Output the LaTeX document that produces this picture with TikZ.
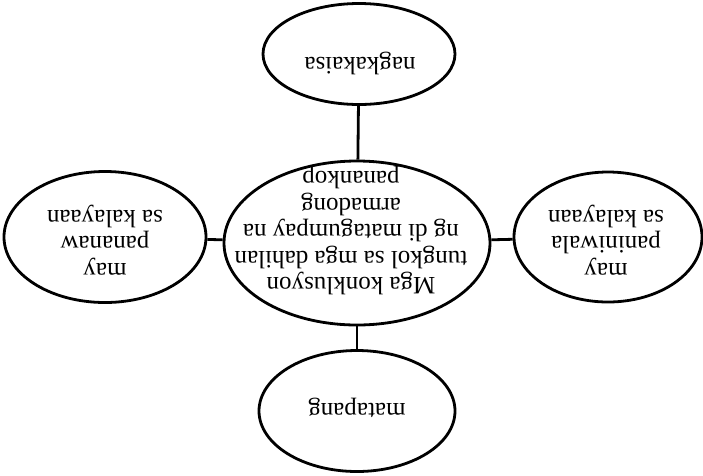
\documentclass[tikz,border=0pt]{standalone}
\usepackage{fontspec}
\setmainfont{Liberation Serif}
\usetikzlibrary{shapes.geometric}
\begin{document}
\begin{tikzpicture}[x=1pt,y=-1pt,
  bubble/.style={draw=black,line width=2.8pt,ellipse,inner sep=0pt},
  txt/.style={align=center,rotate=180,inner sep=0pt,
    font=\fontsize{25}{26.5}\selectfont},
  link/.style={draw=black,line width=2.8pt}]
\useasboundingbox (0,0) rectangle (703,475);
\node[bubble,minimum width=266pt,minimum height=164pt] (c) at (357,243) {};
\node[bubble,minimum width=192pt,minimum height=101pt] (t) at (359,54) {};
\node[bubble,minimum width=196pt,minimum height=121pt] (b) at (357,411) {};
\node[bubble,minimum width=202pt,minimum height=131pt] (l) at (105,237) {};
\node[bubble,minimum width=188pt,minimum height=130pt] (r) at (608,237) {};
\node[txt] (ct) at (351,231) {Mga konklusyon\\tungkol sa mga dahilan\\ng di matagumpay na\\armadong\\panankop};
\node[txt] (tt) at (360,63) {nagkakaisa};
\node[txt] (bt) at (357,408) {matapang};
\node[txt] (lt) at (105,240) {may\\pananaw\\sa kalayaan};
\node[txt] (rt) at (606,240) {may\\paniniwala\\sa kalayaan};
\draw[link] (t) -- (c);
\draw[link] (c) -- (b);
\draw[link] (l) -- (c);
\draw[link] (c) -- (r);
\end{tikzpicture}
\end{document}
